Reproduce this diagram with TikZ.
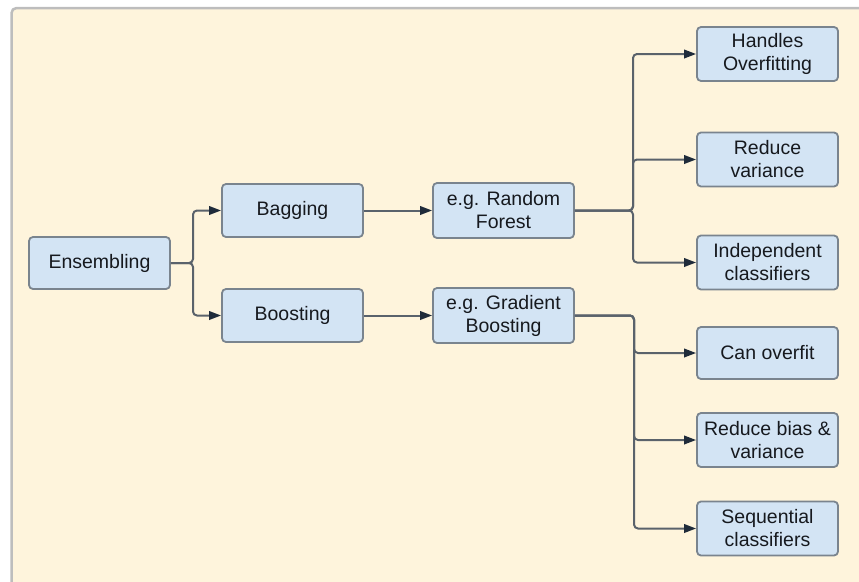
\documentclass[tikz,border=0pt]{standalone}
\usepackage{fontspec}
\setmainfont{Liberation Sans}
\usepackage{tikz}
\usetikzlibrary{arrows.meta}
\definecolor{cream}{HTML}{FEF4DC}
\definecolor{framegray}{HTML}{BDBDBD}
\definecolor{boxfill}{HTML}{D3E4F4}
\definecolor{boxline}{HTML}{7A848E}
\definecolor{linegray}{HTML}{5A626B}
\definecolor{tipnavy}{HTML}{1F2B3A}
\definecolor{txt}{HTML}{16191E}
\tikzset{
  box/.style={draw=boxline,fill=boxfill,line width=1.8pt,rounded corners=4pt,
    minimum width=141pt,minimum height=54pt,align=center,text=txt,
    font=\fontsize{19.5}{23}\selectfont,inner sep=2pt},
  conn/.style={draw=linegray,line width=2pt,rounded corners=4pt,
    -{Triangle[length=12pt,width=8.5pt,color=tipnavy]}}
}

\begin{document}
\begin{tikzpicture}[x=1pt,y=-1pt]
\useasboundingbox (0,0) rectangle (859,581);
\begin{scope}
\clip (0,0) rectangle (859,581);
\filldraw[fill=cream,draw=framegray,line width=2.5pt,rounded corners=5pt] (11.5,8) rectangle (885,610);
\end{scope}
% first levels
\node[box,minimum height=52pt] (ens) at (99.5,263) {Ensembling};
\node[box,minimum height=53pt] (bag) at (292.5,210.5) {Bagging};
\node[box,minimum height=53pt] (boo) at (292.5,315.5) {Boosting};
\node[box,minimum height=55pt] (rf) at (503.5,210.5) {e.g. Random\\Forest};
\node[box,minimum height=55pt] (gb) at (503.5,315.5) {e.g. Gradient\\Boosting};
% right column
\node[box] (over) at (767.5,54) {Handles\\Overfitting};
\node[box] (var) at (767.5,159.5) {Reduce\\variance};
\node[box] (indep) at (767.5,262.5) {Independent\\classifiers};
\node[box,minimum height=52pt] (canover) at (767.5,353) {Can overfit};
\node[box] (bias) at (767.5,440) {Reduce bias \&\\variance};
\node[box] (seq) at (767.5,528.5) {Sequential\\classifiers};
% junctions
\coordinate (j1) at (193,263);
\coordinate (j2) at (633,210.5);
\coordinate (j3) at (634,315.5);
\draw[conn] (ens.east) -- (j1) |- (bag.west);
\draw[conn] (ens.east) -- (j1) |- (boo.west);
\draw[conn] (bag) -- (rf);
\draw[conn] (boo) -- (gb);
\draw[conn] (rf.east) -- (j2) |- (over.west);
\draw[conn] (rf.east) -- (j2) |- (var.west);
\draw[conn] (rf.east) -- (j2) |- (indep.west);
\draw[conn] (gb.east) -- (j3) |- (canover.west);
\draw[conn] (gb.east) -- (j3) |- (bias.west);
\draw[conn] (gb.east) -- (j3) |- (seq.west);
\end{tikzpicture}
\end{document}
